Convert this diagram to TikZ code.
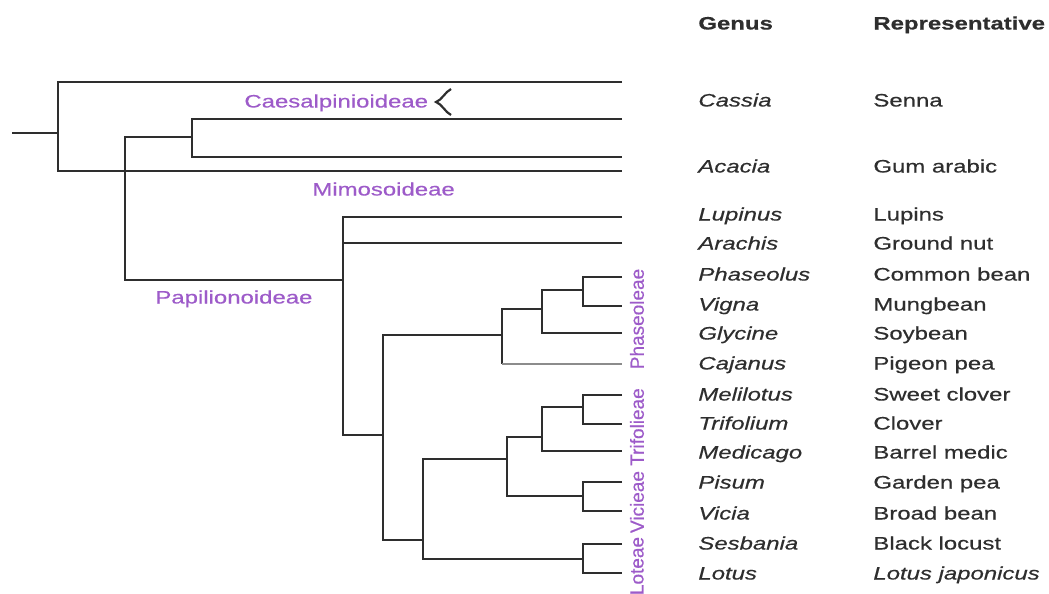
\documentclass[tikz,border=0pt]{standalone}
\usepackage{fontspec}
\setmainfont{Liberation Sans}[FakeStretch=1.33,FakeBold=0.5]
\newfontfamily\tribefont{Liberation Sans}[FakeBold=0.5]
\usepackage{tikz}
\definecolor{Ink}{HTML}{2E2E2E}
\definecolor{Clade}{HTML}{9D5BC9}
\definecolor{Faint}{HTML}{8C8C8C}

\begin{document}
\begin{tikzpicture}[x=0.5pt,y=-0.5pt,
  branch/.style={draw=Ink,line width=1pt},
  faint/.style={draw=Faint,line width=0.6pt},
  txt/.style={inner sep=0pt,text height=6.5pt,text depth=0pt,text=Ink,
              anchor=west,font=\fontsize{9}{11}\selectfont},
  genus/.style={txt,font=\fontsize{9}{11}\selectfont\itshape},
  head/.style={txt,font=\fontsize{9}{11}\selectfont\bfseries},
  clade/.style={txt,text=Clade},
  tribe/.style={inner sep=0pt,rotate=90,text=Clade,
                font=\tribefont\fontsize{9.5}{11}\selectfont}
]
  \useasboundingbox (0,0) rectangle (1049,594);

  % leaf tips
  \coordinate (top1) at (622,82);
  \coordinate (top2) at (622,119);
  \coordinate (top3) at (622,157);
  \coordinate (top4) at (622,171);
  \coordinate (lup) at (622,217);
  \coordinate (ara) at (622,243);
  \coordinate (pha) at (622,277);
  \coordinate (vig) at (622,306);
  \coordinate (gly) at (622,333);
  \coordinate (caj) at (622,364);
  \coordinate (mel) at (622,395);
  \coordinate (tri) at (622,424);
  \coordinate (med) at (622,451);
  \coordinate (pis) at (622,482);
  \coordinate (vic) at (622,511);
  \coordinate (ses) at (622,544);
  \coordinate (lot) at (622,573);

  % inner nodes
  \coordinate (base) at (12,133);
  \coordinate (root) at (58,133);
  \coordinate (caes) at (192,137);
  \coordinate (bend) at (125,280);
  \coordinate (papil) at (343,280);
  \coordinate (crown) at (383,435);
  \coordinate (phA) at (502,335);
  \coordinate (phB) at (542,309);
  \coordinate (phC) at (583,290);
  \coordinate (hlA) at (423,540);
  \coordinate (hlB) at (507,459);
  \coordinate (trA) at (542,437);
  \coordinate (trB) at (583,407);
  \coordinate (viA) at (583,496);
  \coordinate (loA) at (583,559);

  \draw[branch] (base) -- (root);
  \draw[branch] (top1) -| (root) |- (top4);
  \draw[branch] (top2) -| (caes) |- (top3);
  \draw[branch] (caes) -| (bend) -- (papil);
  \draw[branch] (lup) -| (papil) |- (crown);
  \draw[branch] (ara) -| (papil);
  \draw[branch] (phA) -| (crown) |- (hlA);
  \draw[branch] (phB) -| (phA) -- (phA |- caj);
  \draw[faint] (phA |- caj) -- (caj);
  \draw[branch] (phC) -| (phB) |- (gly);
  \draw[branch] (pha) -| (phC) |- (vig);
  \draw[branch] (hlB) -| (hlA) |- (loA);
  \draw[branch] (trA) -| (hlB) |- (viA);
  \draw[branch] (trB) -| (trA) |- (med);
  \draw[branch] (mel) -| (trB) |- (tri);
  \draw[branch] (pis) -| (viA) |- (vic);
  \draw[branch] (ses) -| (loA) |- (lot);

  % hook beside Caesalpinioideae
  \coordinate (hook) at (436,102);
  \coordinate (hookup) at (451,89);
  \coordinate (hookdn) at (451,115);
  \draw[branch,line width=1.1pt] (hookup) .. controls (445,92) and (442,100) .. (hook)
    .. controls (442,104) and (445,112) .. (hookdn);

  % subfamilies and tribes
  \node[clade] (caesname) at (244,101) {Caesalpinioideae};
  \node[clade] (mimname) at (312,189) {Mimosoideae};
  \node[clade] (papname) at (155,297) {Papilionoideae};
  \node[tribe] (phname) at (637,319) {Phaseoleae};
  \node[tribe] (trname) at (637,427) {Trifolieae};
  \node[tribe] (viname) at (637,502) {Vicieae};
  \node[tribe] (loname) at (637,566) {Loteae};

  % table
  \node[head] (genushead) at (698,23) {Genus};
  \node[head] (rephead) at (873,23) {Representative};

  \node[genus] (cassia) at (698,100) {Cassia};
  \node[genus] (acacia) at (698,166) {Acacia};
  \node[genus] (lupinus) at (698,214) {Lupinus};
  \node[genus] (arachis) at (698,243) {Arachis};
  \node[genus] (phaseolus) at (698,274) {Phaseolus};
  \node[genus] (vigna) at (698,304) {Vigna};
  \node[genus] (glycine) at (698,333) {Glycine};
  \node[genus] (cajanus) at (698,363) {Cajanus};
  \node[genus] (melilotus) at (698,394) {Melilotus};
  \node[genus] (trifolium) at (698,423) {Trifolium};
  \node[genus] (medicago) at (698,452) {Medicago};
  \node[genus] (pisum) at (698,482) {Pisum};
  \node[genus] (vicia) at (698,513) {Vicia};
  \node[genus] (sesbania) at (698,543) {Sesbania};
  \node[genus] (lotus) at (698,573) {Lotus};

  \node[txt] (senna) at (873,100) {Senna};
  \node[txt] (gum) at (873,166) {Gum arabic};
  \node[txt] (lupins) at (873,214) {Lupins};
  \node[txt] (groundnut) at (873,243) {Ground nut};
  \node[txt] (commonbean) at (873,274) {Common bean};
  \node[txt] (mungbean) at (873,304) {Mungbean};
  \node[txt] (soybean) at (873,333) {Soybean};
  \node[txt] (pigeonpea) at (873,363) {Pigeon pea};
  \node[txt] (sweetclover) at (873,394) {Sweet clover};
  \node[txt] (clover) at (873,423) {Clover};
  \node[txt] (barrelmedic) at (873,452) {Barrel medic};
  \node[txt] (gardenpea) at (873,482) {Garden pea};
  \node[txt] (broadbean) at (873,513) {Broad bean};
  \node[txt] (blacklocust) at (873,543) {Black locust};
  \node[genus] (japonicus) at (873,573) {Lotus japonicus};
\end{tikzpicture}
\end{document}
